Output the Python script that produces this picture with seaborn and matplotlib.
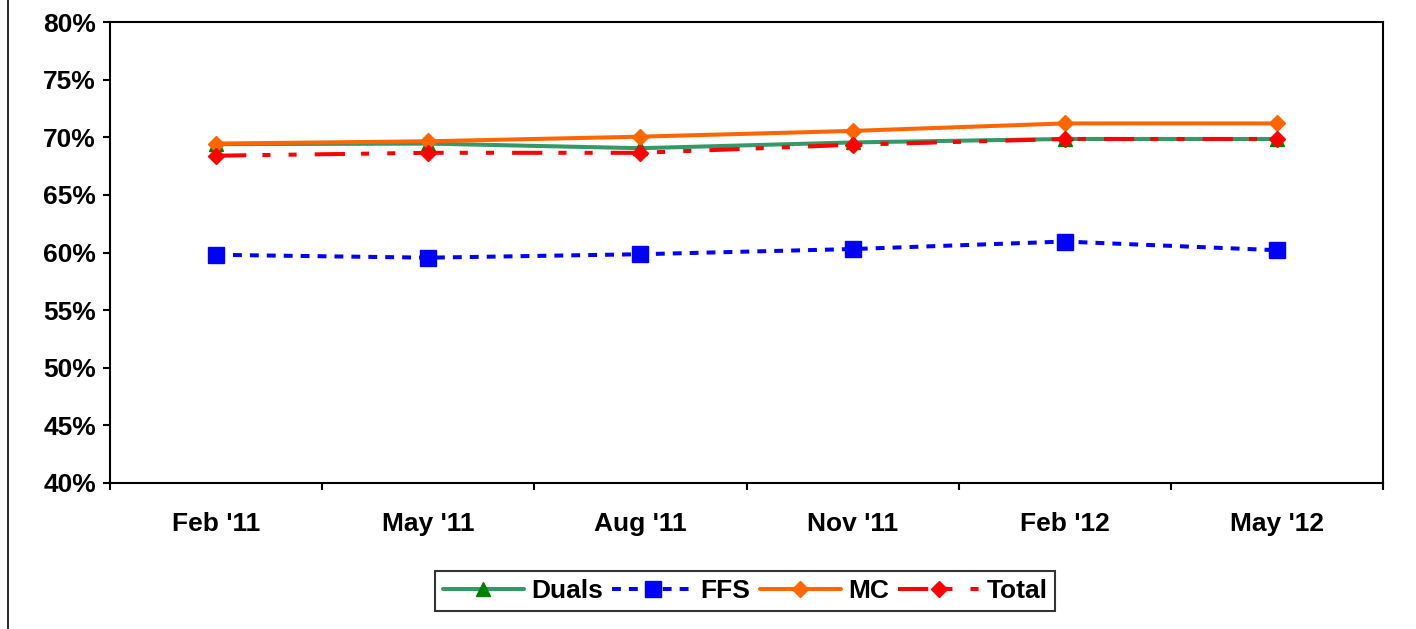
import numpy as np
import pandas as pd
import matplotlib
matplotlib.use("Agg")
import matplotlib.pyplot as plt
import matplotlib.ticker as mtick
from matplotlib.lines import Line2D
import seaborn as sns

# Data (in %)
quarters = ["Feb '11", "May '11", "Aug '11", "Nov '11", "Feb '12", "May '12"]
duals = [69.4, 69.45, 69.05, 69.55, 69.85, 69.85]
ffs = [59.8, 59.55, 59.85, 60.3, 60.95, 60.2]
mc = [69.45, 69.65, 70.05, 70.55, 71.2, 71.2]
total = [68.4, 68.65, 68.65, 69.35, 69.85, 69.85]

sns.set_theme(style="white")
plt.rcParams['font.family'] = ['Liberation Sans', 'DejaVu Sans']
plt.rcParams['font.weight'] = 'bold'
plt.rcParams['text.color'] = 'black'
plt.rcParams['xtick.color'] = 'black'
plt.rcParams['ytick.color'] = 'black'

fig, ax = plt.subplots(figsize=(14.16, 6.29), dpi=100)
fig.subplots_adjust(left=110 / 1416, right=1383 / 1416, top=1 - 22 / 629, bottom=1 - 483 / 629)

styles = {
    'Duals': dict(color='#339966', marker='^', mfc='#008000', mec='#008000', ms=10, dashes=None),
    'FFS': dict(color='#0000FF', marker='s', mfc='#0000FF', mec='#0000FF', ms=11.5, dashes=(2.2, 2.0)),
    'MC': dict(color='#FF6600', marker='D', mfc='#FF6600', mec='#FF6600', ms=8, dashes=None),
    'Total': dict(color='#FF0000', marker='D', mfc='#FF0000', mec='#FF0000', ms=8,
                  dashes=(7.5, 4, 2, 4.5, 2, 4.5)),
}
series = {'Duals': duals, 'FFS': ffs, 'MC': mc, 'Total': total}
LW = 2.9

x = np.arange(len(quarters))
handles = []
for name, vals in series.items():
    st = styles[name]
    sns.lineplot(x=x, y=vals, ax=ax, color=st['color'], linewidth=LW, legend=False)
    line = ax.lines[-1]
    if st['dashes'] is not None:
        line.set_dashes(st['dashes'])
    ax.plot(x, vals, linestyle='none', marker=st['marker'], ms=st['ms'],
            mfc=st['mfc'], mec=st['mec'])
    h = Line2D([], [], color=st['color'], linewidth=LW, marker=st['marker'], ms=st['ms'],
               mfc=st['mfc'], mec=st['mec'])
    if st['dashes'] is not None:
        h.set_dashes(st['dashes'])
    handles.append(h)

ax.set_xlim(-0.5, len(quarters) - 0.5)
ax.set_ylim(40, 80)
ax.yaxis.set_major_locator(mtick.MultipleLocator(5))
ax.yaxis.set_major_formatter(mtick.FuncFormatter(lambda v, p: f"{v:.0f}%"))
ax.set_xticks(x)
ax.set_xticklabels(quarters)
ax.set_xticks(np.arange(-0.5, len(quarters), 1.0), minor=True)
ax.tick_params(axis='x', which='major', length=0, pad=21, labelsize=19)
ax.tick_params(axis='x', which='minor', length=5, width=1.5, color='black', direction='out', bottom=True)
ax.tick_params(axis='y', length=5, width=1.5, color='black', direction='out', left=True, labelsize=19, pad=5)
for lab in ax.get_xticklabels() + ax.get_yticklabels():
    lab.set_fontweight('bold')

for s in ax.spines.values():
    s.set_color('black')
    s.set_linewidth(1.5)
ax.grid(False)

leg = fig.legend(handles, list(series.keys()), loc='center', bbox_to_anchor=(745 / 1416, 1 - 591 / 629),
                 ncol=4, frameon=True, fancybox=False, handlelength=3.1, handletextpad=0.25,
                 columnspacing=0.35, borderpad=0.3, borderaxespad=0, prop={'size': 19, 'weight': 'bold'})
leg.get_frame().set_edgecolor('black')
leg.get_frame().set_linewidth(1.5)

# figure border on the left
fig.add_artist(Line2D([8 / 1416, 8 / 1416], [0, 1], transform=fig.transFigure, color='black', linewidth=1.2))

plt.savefig('out.png', dpi=100)
plt.close()
